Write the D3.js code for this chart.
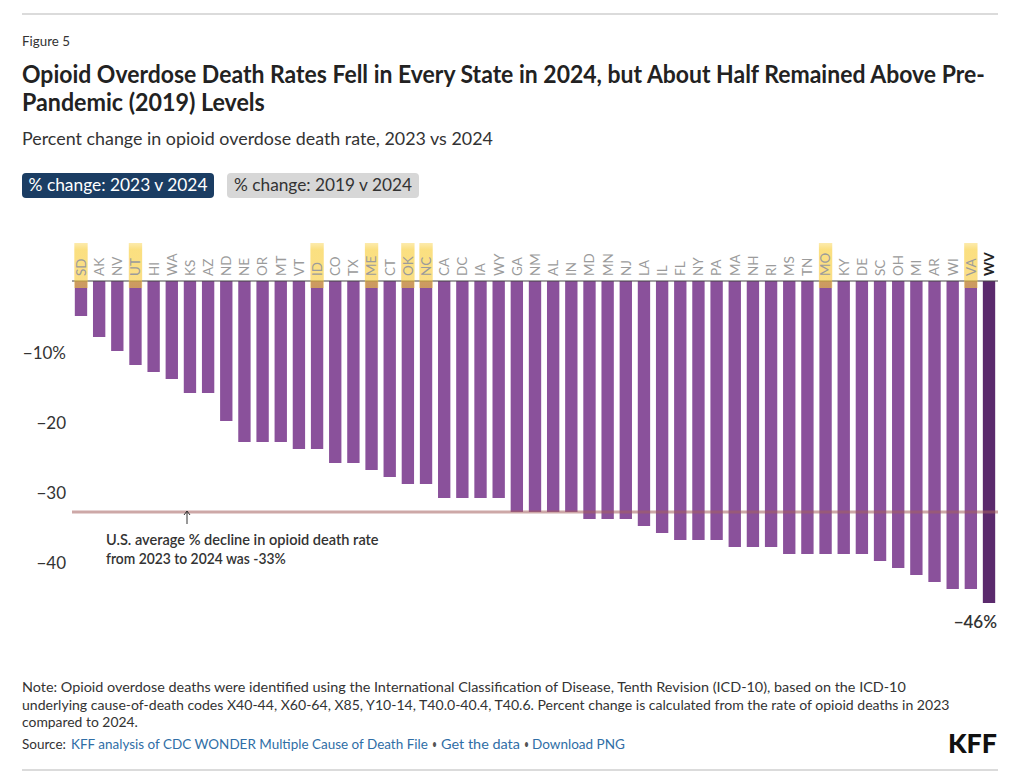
<!DOCTYPE html>
<html><head><meta charset="utf-8">
<script src="https://cdn.jsdelivr.net/npm/d3@7"></script>
<style>
html,body{margin:0;padding:0;background:#fff;}
svg{display:block;font-family:Lato,"Noto Sans",sans-serif;}
</style></head><body>
<svg id="chart" width="1024" height="783"></svg>
<script>
// ---- data ----
const states = ["SD","AK","NV","UT","HI","WA","KS","AZ","ND","NE","OR","MT","VT","ID","CO","TX","ME","CT","OK","NC","CA","DC","IA","WY","GA","NM","AL","IN","MD","MN","NJ","LA","IL","FL","NY","PA","MA","NH","RI","MS","TN","MO","KY","DE","SC","OH","MI","AR","WI","VA","WV"];
const change2023v2024 = [-5,-8,-10,-12,-13,-14,-16,-16,-20,-23,-23,-23,-24,-24,-26,-26,-27,-28,-29,-29,-31,-31,-31,-31,-33,-33,-33,-33,-34,-34,-34,-35,-36,-37,-37,-37,-38,-38,-38,-39,-39,-39,-39,-39,-40,-41,-42,-43,-44,-44,-46];
const highlighted = ["SD","UT","ID","ME","OK","NC","MO","VA"];
const emphasized = "WV";
const usAverage = -33;
const yTicks = [-10,-20,-30,-40];
const yTickLabels = ["\u221210%","\u221220","\u221230","\u221240"];
const endLabel = "\u221246%";
const buttons = ["% change: 2023 v 2024","% change: 2019 v 2024"];

const svg = d3.select("#chart");
// horizontally scale a text so that it spans exactly w pixels
const fit = (sel,w)=>{
  const L = sel.node().getComputedTextLength();
  const x0 = +sel.attr("x"), y0 = +sel.attr("y");
  sel.attr("x",0).attr("y",0).attr("transform",`translate(${x0},${y0}) scale(${w/L},1)`);
};
const data = states.map((s,i)=>({state:s,value:change2023v2024[i]}));

// gradient for highlight marker
const defs = svg.append("defs");
const grad = defs.append("linearGradient").attr("id","hl").attr("x1",0).attr("x2",0).attr("y1",0).attr("y2",1);
grad.append("stop").attr("offset","0%").attr("stop-color","#f9d24a").attr("stop-opacity",0.45);
grad.append("stop").attr("offset","15%").attr("stop-color","#f9d24a").attr("stop-opacity",0.7);
grad.append("stop").attr("offset","100%").attr("stop-color","#f7c93a").attr("stop-opacity",0.6);

// ---- header ----
svg.append("line").attr("x1",22).attr("x2",998).attr("y1",14).attr("y2",14).attr("stroke","#cfcfcf").attr("stroke-width",1.5);
svg.append("text").attr("x",22).attr("y",46).attr("font-size",13.5).attr("fill","#333").text("Figure 5").call(fit,48);
svg.append("text").attr("x",22).attr("y",83).attr("font-size",24).attr("font-weight",700).attr("fill","#222")
  .text("Opioid Overdose Death Rates Fell in Every State in 2024, but About Half Remained Above Pre-").call(fit,963);
svg.append("text").attr("x",22).attr("y",111).attr("font-size",24).attr("font-weight",700).attr("fill","#222")
  .text("Pandemic (2019) Levels").call(fit,243);
svg.append("text").attr("x",22).attr("y",145).attr("font-size",17.5).attr("fill","#333")
  .text("Percent change in opioid overdose death rate, 2023 vs 2024").call(fit,471);

// buttons
const btn = [{x:22,w:192,fill:"#1b3d63",color:"#fff",tw:179},{x:227,w:192,fill:"#d7d7d7",color:"#333",tw:178}];
btn.forEach((b,i)=>{
  svg.append("rect").attr("x",b.x).attr("y",173).attr("width",b.w).attr("height",25).attr("rx",4).attr("fill",b.fill);
  svg.append("text").attr("x",b.x+b.w/2).attr("y",191).attr("text-anchor","middle").attr("font-size",16.5).attr("fill",b.color)
    .text(buttons[i]).call(fit,b.tw);
});

// ---- scales ----
const x = d3.scaleBand().domain(states).range([72,998]).paddingInner(0.32).paddingOuter(0.155);
const y = d3.scaleLinear().domain([0,-50]).range([281,631]);

// y axis labels
const yAxis = d3.axisLeft(y).tickValues(yTicks).tickFormat((d,i)=>yTickLabels[i]).tickSize(0).tickPadding(0);
const ga = svg.append("g").attr("transform","translate(66,0)").call(yAxis);
ga.select(".domain").remove();
ga.selectAll("text").attr("font-size",17).attr("fill","#333").attr("font-family","Lato,'Noto Sans',sans-serif").attr("dy","0.45em");

// bars
svg.append("g").selectAll("rect").data(data).join("rect")
  .attr("x",d=>x(d.state)).attr("width",x.bandwidth())
  .attr("y",y(0)).attr("height",d=>y(d.value)-y(0))
  .attr("fill",d=>d.state===emphasized?"#5b2a6d":"#8a519b");

// baseline
svg.append("line").attr("x1",72).attr("x2",998).attr("y1",y(0)).attr("y2",y(0)).attr("stroke","#444").attr("stroke-width",1);

// average line
svg.append("line").attr("x1",72).attr("x2",998).attr("y1",y(usAverage)).attr("y2",y(usAverage))
  .attr("stroke","#a4605f").attr("stroke-opacity",0.55).attr("stroke-width",3);

// highlights
svg.append("g").selectAll("rect").data(highlighted).join("rect")
  .attr("x",d=>x(d)-0.5).attr("width",x.bandwidth()+1)
  .attr("y",243).attr("height",y(0)+7-243)
  .attr("fill","url(#hl)");

// state labels
svg.append("g").selectAll("text").data(data).join("text")
  .attr("transform",d=>`translate(${x(d.state)+x.bandwidth()/2},276) rotate(-90)`)
  .attr("dy","0.36em").attr("font-size",13.5)
  .attr("font-weight",d=>d.state===emphasized?700:400)
  .attr("fill",d=>d.state===emphasized?"#222":"#9b9b9b")
  .text(d=>d.state);

// end label
const last = data[data.length-1];
svg.append("text").attr("x",997).attr("y",y(last.value)+25).attr("text-anchor","end")
  .attr("font-size",17).attr("font-weight",600).attr("fill","#333").text(endLabel);

// annotation
const ax = 187, ay = y(usAverage)-1;
svg.append("line").attr("x1",ax).attr("x2",ax).attr("y1",ay).attr("y2",ay+13).attr("stroke","#333").attr("stroke-width",1);
svg.append("path").attr("d",`M${ax-3},${ay+4} L${ax},${ay} L${ax+3},${ay+4}`).attr("fill","none").attr("stroke","#333").attr("stroke-width",1);
svg.append("text").attr("x",106).attr("y",545).attr("font-size",14.5).attr("font-weight",600).attr("fill","#333")
  .text("U.S. average % decline in opioid death rate").call(fit,273);
svg.append("text").attr("x",106).attr("y",564).attr("font-size",14.5).attr("font-weight",600).attr("fill","#333")
  .text("from 2023 to 2024 was -33%").call(fit,180);

// ---- footer ----
const notes = [
 ["Note: Opioid overdose deaths were identified using the International Classification of Disease, Tenth Revision (ICD-10), based on the ICD-10",885],
 ["underlying cause-of-death codes X40-44, X60-64, X85, Y10-14, T40.0-40.4, T40.6. Percent change is calculated from the rate of opioid deaths in 2023",929],
 ["compared to 2024.",116]
];
notes.forEach((n,i)=>{
  svg.append("text").attr("x",22).attr("y",692+i*17.5).attr("font-size",14).attr("fill","#333").text(n[0]).call(fit,n[1]);
});
const src = [
 {t:"Source:",x:22,w:44,c:"#333"},
 {t:"KFF analysis of CDC WONDER Multiple Cause of Death File",x:71,w:357,c:"#2f6ea6"},
 {t:"\u2022",x:432,w:5,c:"#555"},
 {t:"Get the data",x:441,w:79,c:"#2f6ea6"},
 {t:"\u2022",x:524,w:5,c:"#555"},
 {t:"Download PNG",x:532,w:93,c:"#2f6ea6"}
];
src.forEach(s=>{
  svg.append("text").attr("x",s.x).attr("y",749).attr("font-size",14).attr("fill",s.c).text(s.t).call(fit,s.w);
});
svg.append("text").attr("x",948).attr("y",753).attr("font-size",27).attr("font-weight",900).attr("fill","#111").text("KFF").call(fit,49);
svg.append("line").attr("x1",22).attr("x2",998).attr("y1",770).attr("y2",770).attr("stroke","#cfcfcf").attr("stroke-width",1.5);
</script>
</body></html>
